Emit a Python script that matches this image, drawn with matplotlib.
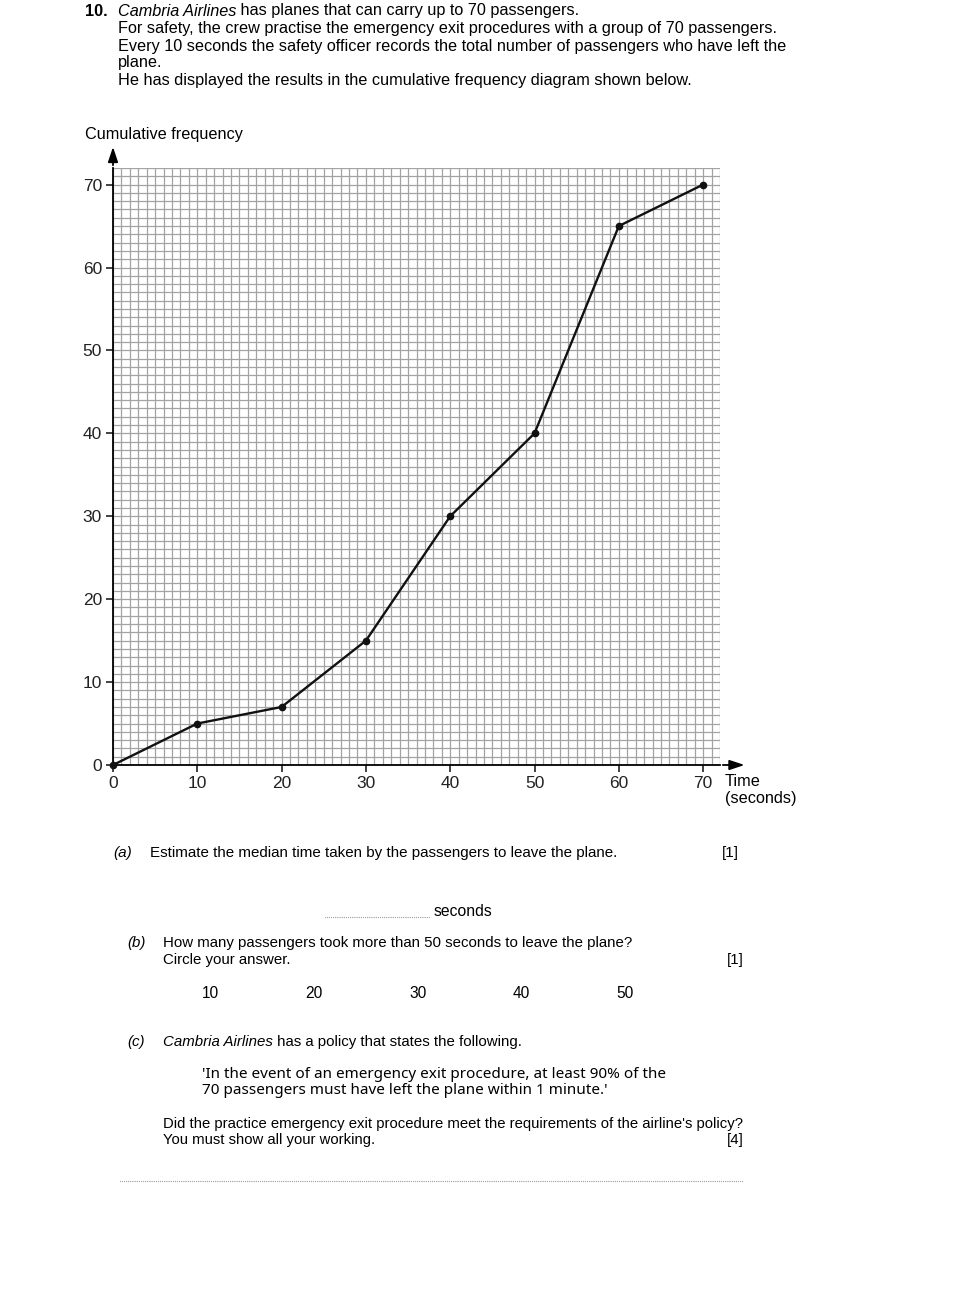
import matplotlib
matplotlib.use("Agg")
import matplotlib.pyplot as plt
from matplotlib import font_manager
import numpy as np

# ---- data ----
time_s = [0, 10, 20, 30, 40, 50, 60, 70]
cum_freq = [0, 5, 7, 15, 30, 40, 65, 70]
x_ticks = [0, 10, 20, 30, 40, 50, 60, 70]
y_ticks = [0, 10, 20, 30, 40, 50, 60, 70]
answer_options = ["10", "20", "30", "40", "50"]

W, H = 979, 1298
BASE = "Liberation Sans"

plt.rcParams["font.family"] = [BASE, "DejaVu Sans"]
fig = plt.figure(figsize=(W / 100, H / 100), dpi=100)

def fx(px):
    return px / W

def fy(py):
    return 1 - py / H

def txt(x, y, s, size=11.7, **kw):
    kw.setdefault("va", "center")
    return fig.text(fx(x), fy(y), s, fontsize=size, **kw)

# ---- axes ----
x0, x1 = 113, 720
y0, y1 = 765, 168
ax = fig.add_axes([fx(x0), fy(y0), (x1 - x0) / W, (y0 - y1) / H])
ax.set_xlim(0, 72)
ax.set_ylim(0, 72)
for v in range(0, 73):
    ax.axvline(v, color="#a3a3a3", lw=0.9, zorder=1)
    ax.axhline(v, color="#a3a3a3", lw=0.9, zorder=1)
for s in ["top", "right"]:
    ax.spines[s].set_visible(False)
for s in ["left", "bottom"]:
    ax.spines[s].set_color("black")
    ax.spines[s].set_linewidth(1.3)
    ax.spines[s].set_zorder(5)
ax.set_xticks(x_ticks)
ax.set_yticks(y_ticks)
ax.tick_params(direction="out", length=5, width=1.2, labelsize=12.5, pad=3, colors="#222222")
ax.plot(time_s, cum_freq, color="#111111", lw=1.7, marker="o", ms=4.5, zorder=6, clip_on=False)

# axis arrows
ax.annotate("", xy=(0, 1.04), xytext=(0, 1.0), xycoords="axes fraction",
            arrowprops=dict(arrowstyle="-|>,head_length=0.9,head_width=0.3", color="black", lw=1.3))
ax.annotate("", xy=(1.045, 0), xytext=(1.0, 0), xycoords="axes fraction",
            arrowprops=dict(arrowstyle="-|>,head_length=0.9,head_width=0.3", color="black", lw=1.3))

txt(85, 134, "Cumulative frequency", 11.7)
txt(725, 782, "Time", 11.7)
txt(725, 799, "(seconds)", 11.7)

# ---- header text ----
fig.canvas.draw()
r = fig.canvas.get_renderer()

def run(x, y, parts, size=11.7, family=None):
    for s, style in parts:
        kw = {}
        if style == "i":
            kw["style"] = "italic"
        elif style == "b":
            kw["weight"] = "bold"
        if family:
            kw["family"] = family
        t = txt(x, y, s, size, **kw)
        bb = t.get_window_extent(renderer=r)
        x += bb.width

txt(85, 11, "10.", 11.7, weight="bold")
run(118, 11, [("Cambria Airlines", "i"), (" has planes that can carry up to 70 passengers.", "n")])
txt(118, 28, "For safety, the crew practise the emergency exit procedures with a group of 70 passengers.")
txt(118, 46, "Every 10 seconds the safety officer records the total number of passengers who have left the")
txt(118, 63, "plane.")
txt(118, 81, "He has displayed the results in the cumulative frequency diagram shown below.")

# ---- part (a) ----
txt(113, 853, "(a)", 11, style="italic")
txt(150, 853, "Estimate the median time taken by the passengers to leave the plane.", 10.9)
txt(722, 853, "[1]", 11)
ax2 = fig.add_axes([0, 0, 1, 1], facecolor="none")
ax2.set_xlim(0, W)
ax2.set_ylim(H, 0)
ax2.axis("off")
ax2.plot([325, 430], [917, 917], color="#555555", lw=0.8, ls=(0, (0.5, 1.2)))
txt(434, 912, "seconds", 11.3)

# ---- part (b) ----
txt(127, 943, "(b)", 10.8, style="italic")
txt(163, 943, "How many passengers took more than 50 seconds to leave the plane?", 10.8)
txt(163, 960, "Circle your answer.", 10.8)
txt(727, 960, "[1]", 10.8)
for xp, s in zip([210, 314, 418, 521, 625], answer_options):
    txt(xp, 993, s, 11.2, ha="center")

# ---- part (c) ----
txt(127, 1042, "(c)", 10.8, style="italic")
run(163, 1042, [("Cambria Airlines", "i"), (" has a policy that states the following.", "n")], size=10.8)
txt(202, 1075, "'In the event of an emergency exit procedure, at least 90% of the", 11, family="Noto Sans")
txt(202, 1091, "70 passengers must have left the plane within 1 minute.'", 11, family="Noto Sans")
txt(163, 1124, "Did the practice emergency exit procedure meet the requirements of the airline's policy?", 10.75)
txt(163, 1140, "You must show all your working.", 10.75)
txt(727, 1140, "[4]", 10.8)
ax2.plot([120, 743], [1181, 1181], color="#555555", lw=0.8, ls=(0, (0.5, 1.2)))

fig.savefig("out.png", dpi=100, facecolor="white")
